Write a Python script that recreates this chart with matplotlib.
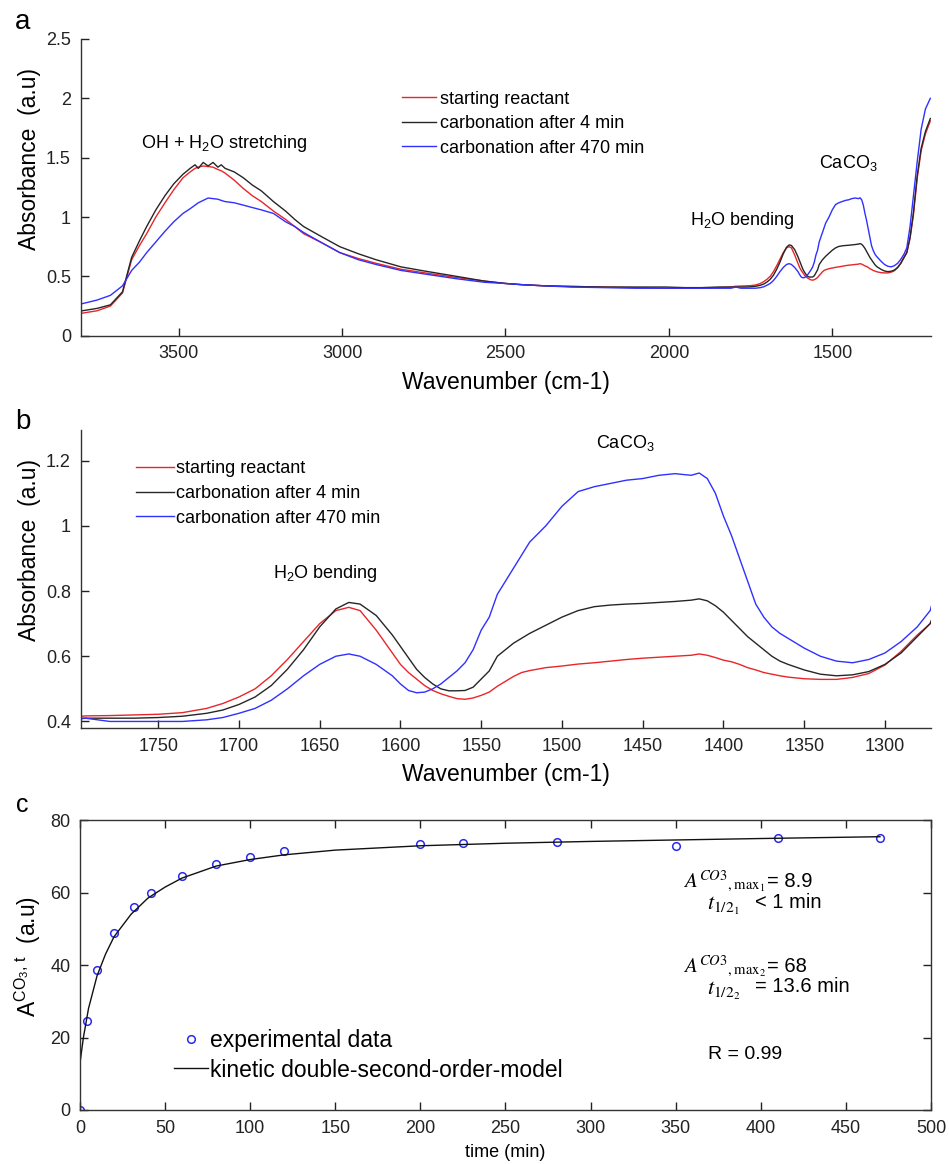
import numpy as np
import matplotlib
matplotlib.use("Agg")
import matplotlib.pyplot as plt
from matplotlib.ticker import FuncFormatter

# -----------------------------
# DATA
# -----------------------------
# wavenumber grid, cm-1 (descending)
wn_high = [3795, 3750, 3709, 3672, 3644, 3620, 3598, 3570, 3542, 3515,
           3487, 3465, 3450, 3440, 3425, 3410, 3395, 3380, 3370, 3358,
           3330, 3302, 3275, 3247, 3210, 3173, 3145, 3118, 3060, 3007,
           2950, 2896, 2820, 2748, 2650, 2564, 2500, 2450, 2379, 2300,
           2200, 2100, 2010, 1950, 1900, 1850, 1810]
wn_mid = [1795, 1780, 1765, 1750, 1735, 1720, 1710, 1700, 1690, 1680,
          1670, 1660, 1650, 1640, 1632, 1625, 1615, 1605, 1600, 1595,
          1590, 1585, 1580, 1575, 1570, 1565, 1560, 1555, 1550, 1545,
          1540, 1535, 1530, 1525, 1520, 1510, 1500, 1490, 1480, 1470,
          1460, 1450, 1440, 1430, 1420, 1415, 1410, 1405, 1400, 1395,
          1390, 1385, 1380, 1375, 1370, 1365, 1360, 1350, 1340, 1330,
          1320, 1310, 1300, 1290, 1280, 1272]
wn_low = [1262, 1252, 1240, 1228, 1215, 1200]

# starting reactant
red_high = [0.19, 0.21, 0.25, 0.36, 0.64, 0.76, 0.86, 1.00, 1.12, 1.23,
            1.33, 1.38, 1.41, 1.42, 1.43, 1.425, 1.42, 1.40, 1.39, 1.37,
            1.31, 1.24, 1.18, 1.13, 1.05, 0.98, 0.92, 0.86, 0.78, 0.70,
            0.65, 0.61, 0.56, 0.53, 0.49, 0.46, 0.44, 0.43, 0.42, 0.415,
            0.41, 0.405, 0.40, 0.40, 0.40, 0.405, 0.41]
red_mid = [0.417, 0.418, 0.42, 0.422, 0.427, 0.44, 0.455, 0.475, 0.50, 0.54,
           0.59, 0.645, 0.70, 0.74, 0.75, 0.74, 0.68, 0.61, 0.575, 0.55,
           0.53, 0.51, 0.495, 0.485, 0.477, 0.47, 0.468, 0.472, 0.48, 0.49,
           0.508, 0.523, 0.538, 0.55, 0.556, 0.565, 0.57, 0.576, 0.58, 0.585,
           0.59, 0.594, 0.597, 0.60, 0.603, 0.607, 0.603, 0.596, 0.588, 0.583,
           0.575, 0.565, 0.558, 0.55, 0.545, 0.54, 0.536, 0.531, 0.529, 0.529,
           0.535, 0.547, 0.573, 0.615, 0.665, 0.70]
red_low = [0.82, 1.01, 1.33, 1.56, 1.70, 1.81]

# carbonation after 4 min
blk_high = [0.21, 0.23, 0.26, 0.37, 0.66, 0.80, 0.92, 1.06, 1.18, 1.28,
            1.36, 1.41, 1.44, 1.41, 1.46, 1.43, 1.46, 1.42, 1.44, 1.41,
            1.38, 1.33, 1.27, 1.22, 1.13, 1.05, 0.98, 0.92, 0.83, 0.75,
            0.69, 0.64, 0.58, 0.545, 0.50, 0.46, 0.44, 0.43, 0.42, 0.415,
            0.41, 0.41, 0.41, 0.405, 0.405, 0.41, 0.41]
blk_mid = [0.41, 0.41, 0.41, 0.412, 0.416, 0.425, 0.435, 0.452, 0.475, 0.51,
           0.56, 0.62, 0.69, 0.745, 0.765, 0.76, 0.725, 0.665, 0.63, 0.595,
           0.56, 0.535, 0.515, 0.50, 0.494, 0.494, 0.495, 0.505, 0.53, 0.555,
           0.60, 0.62, 0.64, 0.655, 0.67, 0.695, 0.72, 0.74, 0.752, 0.757,
           0.76, 0.762, 0.765, 0.768, 0.772, 0.776, 0.77, 0.755, 0.735, 0.71,
           0.685, 0.66, 0.64, 0.62, 0.60, 0.585, 0.575, 0.558, 0.545, 0.54,
           0.543, 0.553, 0.575, 0.61, 0.66, 0.70]
blk_low = [0.83, 1.03, 1.35, 1.58, 1.72, 1.83]

# carbonation after 470 min
blu_high = [0.27, 0.30, 0.34, 0.42, 0.55, 0.62, 0.70, 0.79, 0.88, 0.96,
            1.03, 1.07, 1.10, 1.12, 1.14, 1.16, 1.155, 1.15, 1.14, 1.13,
            1.12, 1.10, 1.08, 1.06, 1.03, 0.96, 0.92, 0.87, 0.78, 0.70,
            0.64, 0.60, 0.55, 0.52, 0.48, 0.45, 0.44, 0.43, 0.42, 0.41,
            0.405, 0.40, 0.40, 0.40, 0.40, 0.40, 0.40]
blu_mid = [0.41, 0.40, 0.40, 0.40, 0.40, 0.405, 0.412, 0.425, 0.44, 0.465,
           0.50, 0.54, 0.575, 0.60, 0.607, 0.60, 0.575, 0.54, 0.515, 0.495,
           0.488, 0.49, 0.50, 0.515, 0.535, 0.555, 0.58, 0.62, 0.68, 0.72,
           0.79, 0.83, 0.87, 0.91, 0.95, 1.00, 1.06, 1.105, 1.12, 1.13,
           1.14, 1.145, 1.155, 1.16, 1.155, 1.162, 1.145, 1.10, 1.03, 0.97,
           0.90, 0.83, 0.76, 0.72, 0.69, 0.67, 0.655, 0.625, 0.60, 0.585,
           0.58, 0.59, 0.61, 0.645, 0.69, 0.74]
blu_low = [0.92, 1.17, 1.47, 1.74, 1.91, 2.00]

series_labels = ["starting reactant", "carbonation after 4 min",
                 "carbonation after 470 min"]

# kinetics (panel c)
t_exp = [0, 4, 10, 20, 32, 42, 60, 80, 100, 120, 200, 225, 280, 350, 410, 470]
a_exp = [0, 24.5, 38.5, 48.8, 56, 59.8, 64.5, 67.8, 69.9, 71.5, 73.4, 73.7,
         74.0, 72.8, 75.0, 75.0]
t_fit = [0, 2, 5, 10, 15, 20, 30, 40, 50, 60, 80, 100, 120, 150, 200, 250,
         300, 350, 400, 470]
a_fit = [13, 20, 28, 37, 43, 47.8, 54, 58.5, 61.5, 64, 67.3, 69.1, 70.4, 71.7,
         72.9, 73.6, 74.1, 74.5, 74.9, 75.4]

# -----------------------------
# STYLE
# -----------------------------
plt.rcParams["font.family"] = ["Liberation Sans", "DejaVu Sans"]
plt.rcParams["mathtext.fontset"] = "custom"
plt.rcParams["mathtext.rm"] = "Liberation Sans"
plt.rcParams["mathtext.it"] = "Liberation Sans:italic"
plt.rcParams["axes.linewidth"] = 1.0
plt.rcParams["axes.edgecolor"] = "#333333"

RED = "#e8262a"
BLK = "#262626"
BLU = "#3030ff"
TICK_FS = 13
LAB_FS = 16.5

wn = np.array(wn_high + wn_mid + wn_low)
red = np.array(red_high + red_mid + red_low)
blk = np.array(blk_high + blk_mid + blk_low)
blu = np.array(blu_high + blu_mid + blu_low)

fig = plt.figure(figsize=(9.49, 11.64), dpi=100)

ax_a = fig.add_axes([0.0850, 0.7116, 0.8960, 0.2549])
ax_b = fig.add_axes([0.0850, 0.3746, 0.8960, 0.2560])
ax_c = fig.add_axes([0.0843, 0.0464, 0.8967, 0.2491])

fmt_g = FuncFormatter(lambda v, p: f"{v:g}")


def spectra_axes(ax):
    ax.plot(wn, red, color=RED, lw=1.0, label=series_labels[0])
    ax.plot(wn, blk, color=BLK, lw=1.0, label=series_labels[1])
    ax.plot(wn, blu, color=BLU, lw=1.0, label=series_labels[2])
    ax.spines["top"].set_visible(False)
    ax.spines["right"].set_visible(False)
    ax.tick_params(direction="in", length=6, width=1, labelsize=TICK_FS,
                   pad=7, colors="#222222")
    ax.yaxis.set_major_formatter(fmt_g)
    ax.set_xlabel("Wavenumber (cm-1)", fontsize=LAB_FS, labelpad=6)
    ax.set_ylabel("Absorbance  (a.u)", fontsize=LAB_FS)
    ax.yaxis.set_label_coords(-0.047, 0.597)


def legend_spectra(ax, y0, hlen, pad):
    ax.legend(loc="upper left", bbox_to_anchor=y0, frameon=False,
              fontsize=13, handlelength=hlen, handletextpad=pad,
              labelspacing=0.42, borderpad=0, borderaxespad=0)


# -----------------------------
# PANEL a
# -----------------------------
spectra_axes(ax_a)
ax_a.set_xlim(3800, 1198)
ax_a.set_ylim(0, 2.5)
ax_a.set_xticks([3500, 3000, 2500, 2000, 1500])
ax_a.set_yticks([0, 0.5, 1, 1.5, 2, 2.5])
legend_spectra(ax_a, (0.378, 0.826), 1.9, 0.2)
ax_a.text(3615, 1.62, "OH + H$_2$O stretching", fontsize=13, va="center")
ax_a.text(1936, 0.97, "H$_2$O bending", fontsize=13, va="center")
ax_a.text(1540, 1.455, "CaCO$_3$", fontsize=13, va="center")

# -----------------------------
# PANEL b
# -----------------------------
spectra_axes(ax_b)
ax_b.set_xlim(1798, 1271.5)
ax_b.set_ylim(0.38, 1.294)
ax_b.set_xticks(np.arange(1750, 1299, -50))
ax_b.set_yticks([0.4, 0.6, 0.8, 1.0, 1.2])
legend_spectra(ax_b, (0.065, 0.898), 2.1, 0.1)
ax_b.text(1478.7, 1.255, "CaCO$_3$", fontsize=13, va="center")
ax_b.text(1678.6, 0.853, "H$_2$O bending", fontsize=13, va="center")

# -----------------------------
# PANEL c
# -----------------------------
ax_c.plot(t_exp, a_exp, "o", ms=5.5, mfc="none", mec="#2a2aee", mew=1.1,
          label="experimental data")
ax_c.plot(t_fit, a_fit, color="#111111", lw=1.0,
          label="kinetic double-second-order-model")
ax_c.set_xlim(0, 500)
ax_c.set_ylim(0, 80)
ax_c.set_xticks(np.arange(0, 501, 50))
ax_c.set_yticks(np.arange(0, 81, 20))
ax_c.tick_params(direction="in", length=6, width=1, labelsize=TICK_FS,
                 pad=7, top=True, right=True, colors="#222222")
ax_c.set_xlabel("time (min)", fontsize=13, labelpad=5)
ax_c.set_ylabel(r"A$^{\mathrm{CO_3,\,t}}$  (a.u)", fontsize=LAB_FS)
ax_c.yaxis.set_label_coords(-0.044, 0.531)
ax_c.legend(loc="upper left", bbox_to_anchor=(0.110, 0.279), frameon=False,
            fontsize=16.5, handlelength=1.5, handletextpad=0.1,
            labelspacing=0.28, borderpad=0, borderaxespad=0)

# fitted parameters: serif math symbols, sans values
ax_c.text(354.5, 61.4, r"$A^{CO3}{}_{,\mathrm{max}_1}$", fontsize=15,
          math_fontfamily="stix", va="baseline")
ax_c.text(403.5, 61.4, "= 8.9", fontsize=14.5, va="baseline")
ax_c.text(368.4, 55.2, r"$t_{1/2_1}$", fontsize=16,
          math_fontfamily="stix", va="baseline")
ax_c.text(396.5, 55.8, "< 1 min", fontsize=14.5, va="baseline")
ax_c.text(354.5, 38.2, r"$A^{CO3}{}_{,\mathrm{max}_2}$", fontsize=15,
          math_fontfamily="stix", va="baseline")
ax_c.text(403.5, 38.0, "= 68", fontsize=14.5, va="baseline")
ax_c.text(368.4, 31.8, r"$t_{1/2_2}$", fontsize=16,
          math_fontfamily="stix", va="baseline")
ax_c.text(396.5, 32.6, "= 13.6 min", fontsize=14.5, va="baseline")
ax_c.text(369, 15.4, "R = 0.99", fontsize=14, va="center")

# panel letters
fig.text(0.0158, 0.975, "a", fontsize=20, va="baseline")
fig.text(0.0158, 0.6314, "b", fontsize=20, va="baseline")
fig.text(0.0170, 0.3024, "c", fontsize=18, va="baseline")

fig.savefig("out.png", dpi=100)
